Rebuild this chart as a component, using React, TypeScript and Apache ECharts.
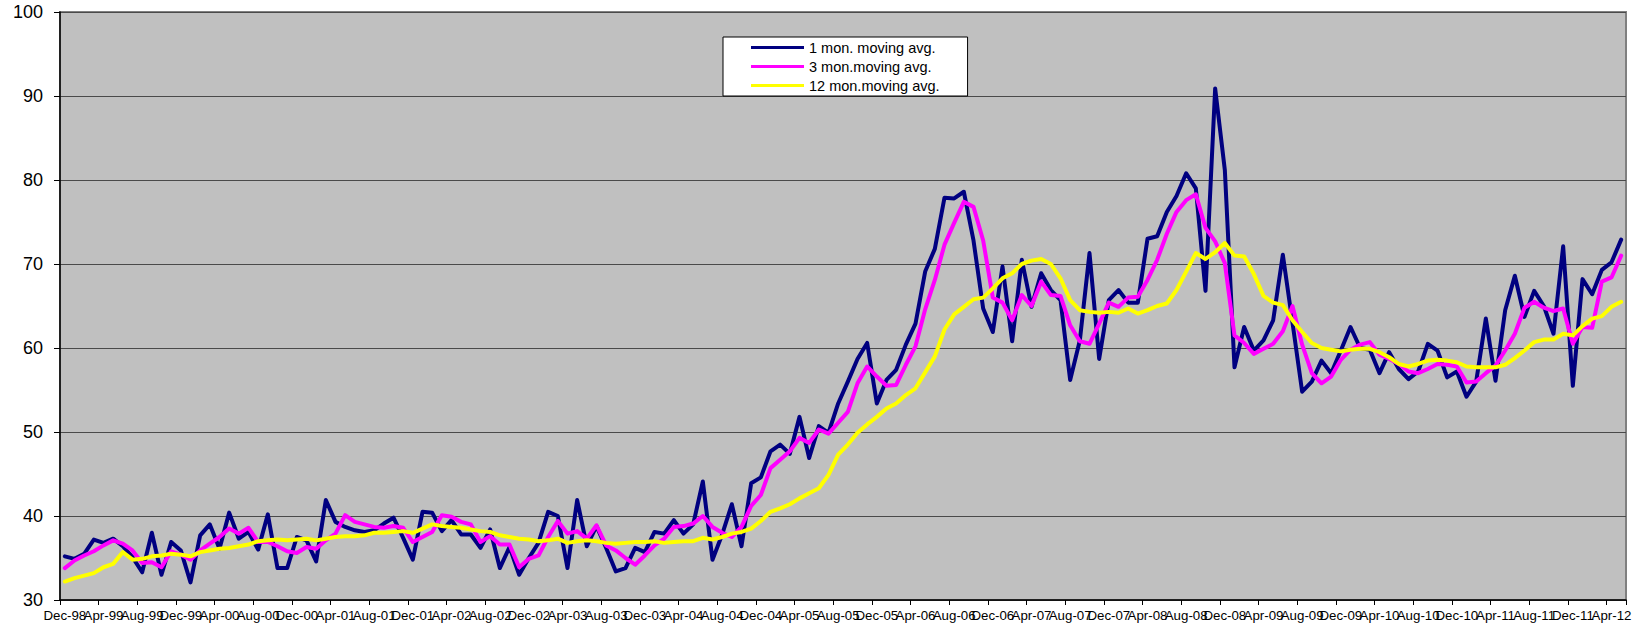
import React, { useEffect, useRef } from "react";
import * as echarts from "echarts";

// Monthly categories from Dec-98 to May-12
const monthNames = ["Jan", "Feb", "Mar", "Apr", "May", "Jun", "Jul", "Aug", "Sep", "Oct", "Nov", "Dec"];
const startYear = 1998;
const startMonth = 11; // Dec
const monthCount = 162;
const categories: string[] = [];
for (let k = 0; k < monthCount; k++) {
  const m = (startMonth + k) % 12;
  const y = startYear + Math.floor((startMonth + k) / 12);
  categories.push(`${monthNames[m]}-${String(y % 100).padStart(2, "0")}`);
}

const oneMonth = [
  35.2, 34.9, 35.5, 37.2, 36.8, 37.3, 36.4, 35.1, 33.3, 38.0,
  33.0, 36.9, 35.9, 32.1, 37.7, 39.0, 36.1, 40.4, 37.3, 38.1,
  36.0, 40.2, 33.8, 33.8, 37.5, 37.1, 34.6, 41.9, 39.3, 38.7,
  38.3, 38.1, 38.3, 39.1, 39.8, 37.4, 34.8, 40.5, 40.4, 38.2,
  39.5, 37.8, 37.8, 36.2, 38.4, 33.8, 36.3, 33.0, 35.0, 36.8,
  40.5, 40.0, 33.8, 41.9, 36.4, 38.8, 36.2, 33.4, 33.8, 36.2,
  35.7, 38.1, 37.9, 39.5, 37.9, 39.0, 44.1, 34.8, 37.8, 41.4,
  36.4, 43.9, 44.6, 47.7, 48.5, 47.4, 51.8, 46.9, 50.7, 49.9,
  53.4, 56.0, 58.7, 60.6, 53.4, 56.2, 57.4, 60.4, 62.9, 69.1,
  71.8, 77.9, 77.8, 78.6, 72.8, 64.7, 61.9, 69.7, 60.8, 70.5,
  64.9, 68.9, 66.9, 65.7, 56.2, 60.9, 71.3, 58.7, 65.7, 66.9,
  65.4, 65.4, 73.0, 73.3, 76.2, 78.1, 80.8, 79.0, 66.8, 90.9,
  81.2, 57.7, 62.5, 59.7, 60.9, 63.3, 71.1, 63.0, 54.8, 56.0,
  58.5, 57.0, 59.7, 62.5, 60.0, 59.8, 57.0, 59.5, 57.5, 56.3,
  57.2, 60.5, 59.7, 56.5, 57.2, 54.2, 56.0, 63.5, 56.1, 64.5,
  68.6, 63.7, 66.8, 65.0, 61.7, 72.1, 55.5, 68.2, 66.4, 69.3,
  70.2, 72.9,
];

const threeMonth = [
  33.8, 34.7, 35.3, 35.8, 36.5, 37.1, 36.7, 35.9, 34.4, 34.5,
  33.9, 35.8, 35.4, 34.8, 35.9, 36.7, 37.5, 38.5, 37.9, 38.6,
  36.9, 36.9, 36.4, 35.8, 35.6, 36.3, 36.1, 37.1, 37.9, 40.1,
  39.3, 39.0, 38.7, 38.6, 38.8, 38.6, 36.9, 37.5, 38.1, 40.1,
  39.9, 39.3, 39.0, 36.9, 37.6, 36.6, 36.6, 33.9, 34.9, 35.3,
  37.5, 39.4, 37.9, 38.2, 37.3, 38.9, 36.5, 35.9, 35.0, 34.2,
  35.3, 36.5, 37.3, 38.7, 38.8, 39.1, 40.0, 38.7, 38.0, 37.5,
  38.7, 41.2, 42.5, 45.7, 46.7, 47.7, 49.3, 48.7, 50.3, 49.8,
  51.1, 52.4, 55.8, 57.8, 56.6, 55.5, 55.6, 58.0, 60.2, 64.6,
  68.1, 72.3, 74.9, 77.4, 76.8, 72.8, 66.0, 65.4, 63.3, 66.3,
  65.0, 67.9, 66.3, 66.2, 62.7, 60.8, 60.5, 62.9, 65.4, 64.9,
  66.0, 66.1, 68.1, 70.5, 73.6, 76.2, 77.6, 78.3, 74.3, 72.7,
  70.1, 61.5, 60.6, 59.3, 59.9, 60.5, 62.0, 65.0, 60.4, 57.0,
  55.8, 56.6, 58.6, 59.8, 60.4, 60.7, 59.2, 58.7, 58.1, 57.2,
  57.0, 57.5, 58.1, 58.0, 57.8, 55.9, 56.0, 57.0, 57.9, 59.7,
  61.7, 64.8, 65.5, 64.8, 64.4, 64.7, 60.5, 62.5, 62.4, 67.9,
  68.4, 71.0,
];

const twelveMonth = [
  32.2, 32.6, 32.9, 33.2, 33.9, 34.3, 35.7, 34.8, 34.9, 35.2,
  35.3, 35.5, 35.4, 35.2, 35.7, 35.9, 36.1, 36.2, 36.4, 36.6,
  37.0, 37.1, 37.2, 37.1, 37.2, 37.3, 37.1, 37.3, 37.5, 37.6,
  37.6, 37.7, 38.0, 38.0, 38.1, 38.2, 38.0, 38.5, 39.0, 38.8,
  38.7, 38.6, 38.4, 38.2, 38.1, 37.7, 37.5, 37.3, 37.2, 37.0,
  37.1, 37.3, 36.8, 37.0, 37.1, 37.0, 36.8, 36.7, 36.8, 36.9,
  36.9, 37.0, 36.8, 36.9, 37.0, 37.0, 37.4, 37.2, 37.5, 37.9,
  38.1, 38.5, 39.4, 40.5, 40.9, 41.4, 42.1, 42.7, 43.3, 44.9,
  47.3, 48.5, 49.9, 50.9, 51.8, 52.8, 53.4, 54.4, 55.2, 57.1,
  59.0, 62.2, 64.0, 64.9, 65.8, 66.0, 67.1, 68.3, 68.9, 70.0,
  70.4, 70.6, 70.0, 68.3, 65.7, 64.5, 64.3, 64.2, 64.3, 64.2,
  64.7, 64.1, 64.5, 65.0, 65.3, 66.9, 69.1, 71.3, 70.6, 71.4,
  72.5, 71.0, 70.9, 68.8, 66.2, 65.4, 65.1, 63.3, 61.9, 60.6,
  60.0, 59.8, 59.6, 59.8, 59.9, 59.9, 59.5, 58.9, 58.1, 57.8,
  58.1, 58.5, 58.6, 58.5, 58.3, 57.8, 57.7, 57.7, 57.7, 58.0,
  58.8, 59.7, 60.7, 61.0, 61.0, 61.7, 61.5, 62.6, 63.5, 63.8,
  64.9, 65.5,
];

const seriesNames = ["1 mon. moving avg.", "3 mon.moving avg.", "12 mon.moving avg."];
const seriesColors = ["#000080", "#FF00FF", "#FFFF00"];
const labelStep = 4;

const FONT = "'Liberation Sans', Arial, Helvetica, sans-serif";

export default function App() {
  const ref = useRef<HTMLDivElement>(null);

  useEffect(() => {
    document.body.style.margin = "0";
    document.body.style.overflow = "hidden";
    if (!ref.current) return;
    const chart = echarts.init(ref.current, undefined, { renderer: "svg" });
    const datasets = [oneMonth, threeMonth, twelveMonth];
    chart.setOption({
      animation: false,
      backgroundColor: "#ffffff",
      textStyle: { fontFamily: FONT },
      grid: {
        left: 60,
        top: 12,
        right: 19,
        bottom: 27,
        show: true,
        backgroundColor: "#C0C0C0",
        borderColor: "#808080",
        borderWidth: 2,
      },
      legend: {
        show: true,
        orient: "vertical",
        left: 723,
        top: 37,
        padding: [2, 28, 2, 28],
        backgroundColor: "#ffffff",
        borderColor: "#000000",
        borderWidth: 1,
        itemWidth: 53,
        itemHeight: 3,
        itemGap: 2,
        icon: "rect",
        data: seriesNames,
        textStyle: {
          fontFamily: FONT,
          fontSize: 14.5,
          color: "#000",
          lineHeight: 17,
        },
      },
      xAxis: {
        type: "category",
        data: categories,
        boundaryGap: true,
        axisLine: { show: true, lineStyle: { color: "#000", width: 1.5 } },
        axisTick: {
          show: true,
          interval: (i: number) => i % labelStep === 0,
          length: 5,
          lineStyle: { color: "#000", width: 1 },
        },
        axisLabel: {
          interval: 0,
          formatter: (value: string, i: number) => (i % labelStep === 0 ? value : ""),
          margin: 9,
          color: "#000",
          fontSize: 13.3,
          fontFamily: FONT,
          hideOverlap: false,
        },
        splitLine: { show: false },
      },
      yAxis: {
        type: "value",
        min: 30,
        max: 100,
        interval: 10,
        axisLine: { show: true, lineStyle: { color: "#000", width: 1.5 } },
        axisTick: { show: true, length: 6, lineStyle: { color: "#000", width: 1 } },
        axisLabel: { color: "#000", fontSize: 18, fontFamily: FONT, margin: 17 },
        splitLine: { show: true, lineStyle: { color: "#4a4a4a", width: 1.2 } },
      },
      series: seriesNames.map((name, idx) => ({
        name,
        type: "line",
        data: datasets[idx],
        symbol: "none",
        showSymbol: false,
        color: seriesColors[idx],
        itemStyle: { color: seriesColors[idx] },
        lineStyle: { color: seriesColors[idx], width: 4, join: "round", cap: "round" },
        z: 2 + idx,
      })),
    });
    return () => {
      chart.dispose();
    };
  }, []);

  return <div ref={ref} style={{ width: 1645, height: 627 }} />;
}
